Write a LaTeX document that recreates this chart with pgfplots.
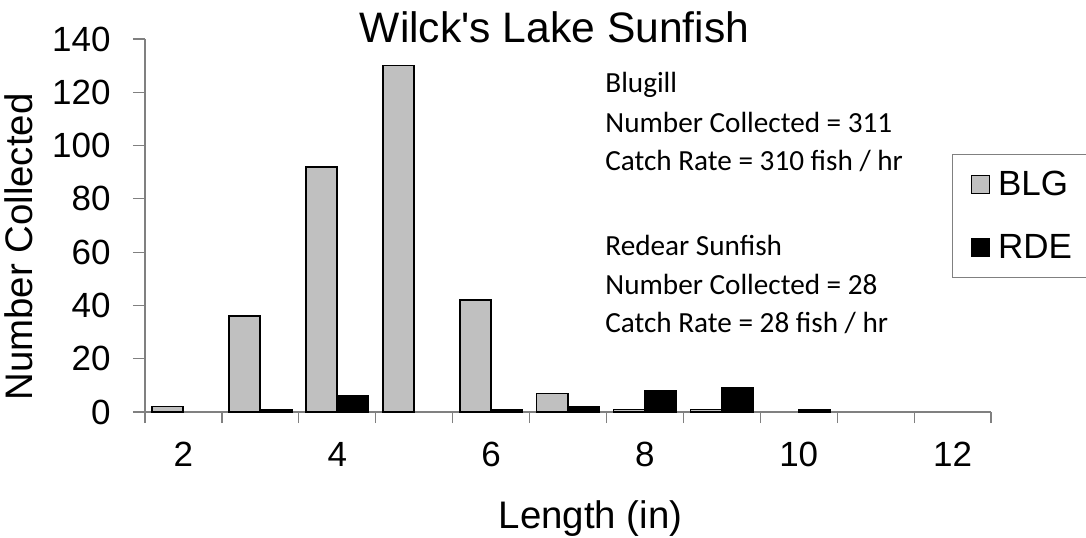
\documentclass[border=0pt]{standalone}
\usepackage{fontspec}
\setmainfont{Liberation Sans}
\newfontfamily\carlito{Carlito}
\usepackage{pgfplots}
\pgfplotsset{compat=1.18}
\definecolor{barg}{RGB}{192,192,192}
\definecolor{axg}{RGB}{128,128,128}
\begin{document}
\begin{tikzpicture}
\useasboundingbox (-72.5pt,-62.5pt) rectangle (470.5pt,206pt);
\begin{axis}[
  scale only axis,
  width=423pt, height=186.5pt,
  clip=false,
  xmin=1.5, xmax=12.5, ymin=0, ymax=140,
  ybar, bar width=0.405,
  axis x line*=bottom, axis y line*=left,
  axis line style={axg, line width=0.6pt, -},
  xtick={2,4,6,8,10,12},
  minor xtick={1.5,2.5,...,12.5},
  ytick={0,20,...,140},
  tick align=outside,
  major tick length=6pt, minor tick length=5.5pt,
  major x tick style={draw=none},
  minor x tick style={axg, line width=0.6pt},
  y tick style={axg, line width=0.6pt},
  /pgf/number format/assume math mode=true,
  tick label style={font=\fontsize{17.5}{17.5}\selectfont, inner sep=0pt},
  xticklabel style={anchor=north, yshift=-9pt},
  yticklabel style={anchor=east, xshift=-11pt},
  legend cell align=left,
  legend image code/.code={\draw[#1, line width=0.7pt] (0pt,-4.5pt) rectangle (9pt,4.5pt);},
  legend style={at={(axis description cs:0.9539,0.6917)}, anchor=north west,
    draw=axg, line width=0.6pt, inner xsep=9pt, inner ysep=8pt,
    font=\fontsize{17.5}{17.5}\selectfont, row sep=18pt,
    nodes={inner sep=0pt},
    /tikz/every odd column/.append style={column sep=4pt}},
]
\addplot[fill=barg, draw=black, line width=0.8pt, bar shift=-0.205] coordinates {
  (2,2) (3,36) (4,92) (5,130) (6,42) (7,7) (8,1) (9,1)};
\addlegendentry{BLG\hspace{8pt}}
\addplot[fill=black, draw=black, line width=0.8pt, bar shift=0.205] coordinates {
  (3,1) (4,6) (6,1) (7,2) (8,8) (9,9) (10,1)};
\addlegendentry{RDE\hspace{8pt}}
\end{axis}
\node[anchor=base, font=\fontsize{21.3}{21.3}\selectfont, inner sep=0pt] at (204.75pt,185pt) {Wilck\textquotesingle s Lake Sunfish};
\node[anchor=base, font=\fontsize{19.2}{19.2}\selectfont, inner sep=0pt] at (222.75pt,-58pt) {Length (in)};
\node[anchor=base, rotate=90, font=\fontsize{19.2}{19.2}\selectfont, inner sep=0pt] at (-56pt,82.5pt) {Number Collected};
\begin{scope}[every node/.style={anchor=base west, inner sep=0pt, font=\carlito\fontsize{14.6}{14.6}\selectfont}]
\node at (230pt,160pt) {Blugill};
\node at (230pt,140pt) {Number Collected = 311};
\node at (230pt,121pt) {Catch Rate = 310 fish / hr};
\node at (230pt,78.5pt) {Redear Sunfish};
\node at (230pt,59pt) {Number Collected = 28};
\node at (230pt,40pt) {Catch Rate = 28 fish / hr};
\end{scope}
\end{tikzpicture}
\end{document}
